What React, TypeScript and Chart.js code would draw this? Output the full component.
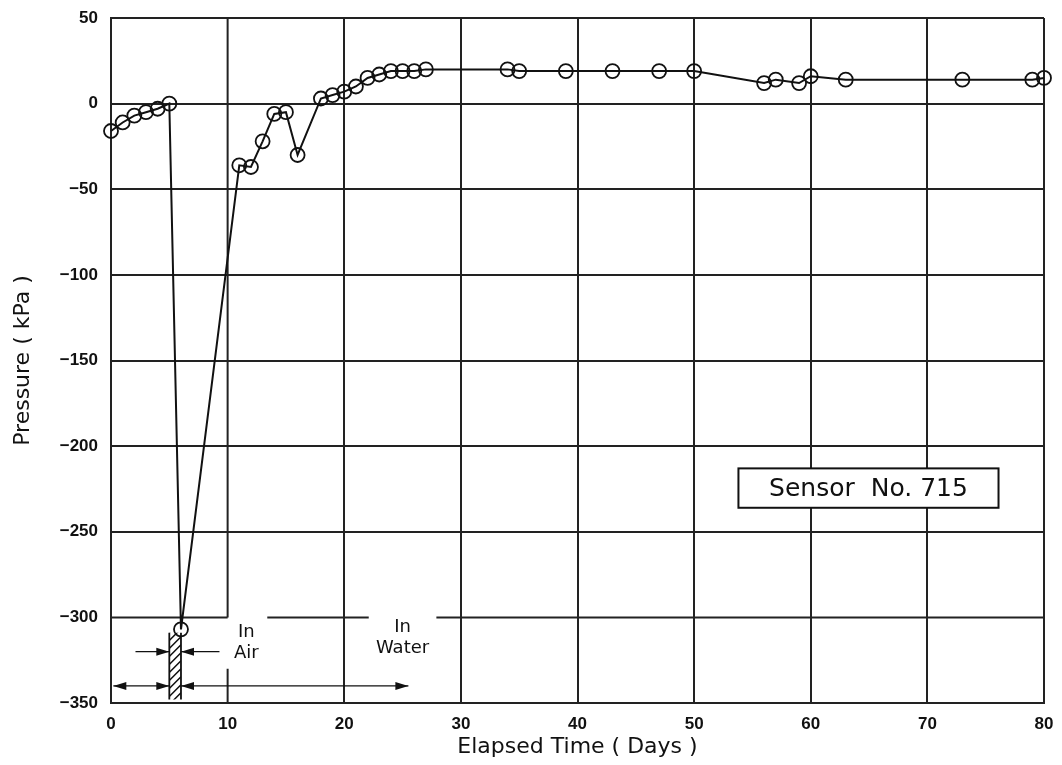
import React, { useEffect, useRef } from "react";
import { Chart, registerables } from "chart.js";
Chart.register(...registerables);

// Data
const days = [0, 1, 2, 3, 4, 5, 6, 11, 12, 13, 14, 15, 16, 18, 19, 20, 21, 22, 23, 24, 25, 26, 27, 34, 35, 39, 43, 47, 50, 56, 57, 59, 60, 63, 73, 79, 80];
const pressure = [-16, -11, -7, -5, -3, 0, -307, -36, -37, -22, -6, -5, -30, 3, 5, 7, 10, 15, 17, 19, 19, 19, 20, 20, 19, 19, 19, 19, 19, 12, 14, 12, 16, 14, 14, 14, 15];

const xTicks = [0, 10, 20, 30, 40, 50, 60, 70, 80];
const yTicks = [50, 0, -50, -100, -150, -200, -250, -300, -350];

// Broken grid lines (data units)
const brokenY = -300;
const brokenYSegments = [[0, 10], [13.4, 22.1], [27.9, 80]];
const brokenX = 10;
const brokenXSegments = [[-300, 50], [-330, -350]];

// Annotations (data units)
const hatchX = [5, 6];
const hatchY = [-309, -348];
const arrowRows = [
  { y: -320, from: 2.1, to: 5, startHead: false, endHead: true },
  { y: -320, from: 9.3, to: 6, startHead: false, endHead: true },
  { y: -340, from: 0.2, to: 5, startHead: true, endHead: true },
  { y: -340, from: 6, to: 25.5, startHead: true, endHead: true },
];
const labels = [
  { text: "In", x: 11.6, y: -309 },
  { text: "Air", x: 11.6, y: -321 },
  { text: "In", x: 25.0, y: -306 },
  { text: "Water", x: 25.0, y: -318 },
];
const legendText = "Sensor  No. 715";
const legendBox = { x0: 53.8, x1: 76.1, y0: -213, y1: -236 };

const FONT = "'DejaVu Sans', 'Liberation Sans', sans-serif";
const TICKFONT = "'Liberation Sans', Arial, sans-serif";
const GRID = "#222";

function arrow(ctx: CanvasRenderingContext2D, x1: number, x2: number, y: number, sh: boolean, eh: boolean) {
  ctx.beginPath();
  ctx.moveTo(x1, y);
  ctx.lineTo(x2, y);
  ctx.stroke();
  const head = (tip: number, dir: number) => {
    ctx.beginPath();
    ctx.moveTo(tip, y);
    ctx.lineTo(tip - dir * 13, y - 4);
    ctx.lineTo(tip - dir * 13, y + 4);
    ctx.closePath();
    ctx.fill();
  };
  const dir = Math.sign(x2 - x1) || 1;
  if (eh) head(x2, dir);
  if (sh) head(x1, -dir);
}

const annotPlugin = {
  id: "annot",
  beforeDatasetsDraw(chart: any) {
    const { ctx, scales } = chart;
    const x = scales.x, y = scales.y;
    const px = (v: number) => x.getPixelForValue(v);
    const py = (v: number) => y.getPixelForValue(v);
    ctx.save();
    ctx.strokeStyle = GRID;
    ctx.fillStyle = "#111";
    ctx.lineWidth = 2;
    for (const [a, b] of brokenYSegments) {
      ctx.beginPath();
      ctx.moveTo(px(a), py(brokenY));
      ctx.lineTo(px(b), py(brokenY));
      ctx.stroke();
    }
    for (const [a, b] of brokenXSegments) {
      ctx.beginPath();
      ctx.moveTo(px(brokenX), py(a));
      ctx.lineTo(px(brokenX), py(b));
      ctx.stroke();
    }
    // hatched bar
    const hx0 = px(hatchX[0]), hx1 = px(hatchX[1]), hy0 = py(hatchY[0]), hy1 = py(hatchY[1]);
    ctx.lineWidth = 1.8;
    ctx.strokeStyle = "#111";
    ctx.beginPath();
    ctx.moveTo(hx0, hy0); ctx.lineTo(hx0, hy1);
    ctx.moveTo(hx1, hy0); ctx.lineTo(hx1, hy1);
    ctx.stroke();
    ctx.save();
    ctx.beginPath();
    ctx.rect(hx0, hy0, hx1 - hx0, hy1 - hy0);
    ctx.clip();
    ctx.beginPath();
    const w = hx1 - hx0;
    for (let t = hy0 - 20; t < hy1 + 20; t += 8) {
      ctx.moveTo(hx0, t + w);
      ctx.lineTo(hx1, t);
    }
    ctx.lineWidth = 1.5;
    ctx.stroke();
    ctx.restore();
    // arrows
    ctx.lineWidth = 1.2;
    for (const a of arrowRows) arrow(ctx, px(a.from), px(a.to), py(a.y), a.startHead, a.endHead);
    // labels
    ctx.fillStyle = "#111";
    ctx.font = `18px ${FONT}`;
    ctx.textAlign = "center";
    ctx.textBaseline = "middle";
    for (const l of labels) ctx.fillText(l.text, px(l.x), py(l.y));
    // legend box
    const bx0 = px(legendBox.x0), bx1 = px(legendBox.x1), by0 = py(legendBox.y0), by1 = py(legendBox.y1);
    ctx.fillStyle = "#fff";
    ctx.fillRect(bx0, by0, bx1 - bx0, by1 - by0);
    ctx.lineWidth = 2;
    ctx.strokeStyle = "#111";
    ctx.strokeRect(bx0, by0, bx1 - bx0, by1 - by0);
    ctx.fillStyle = "#111";
    ctx.font = `25px ${FONT}`;
    ctx.fillText(legendText, (bx0 + bx1) / 2, (by0 + by1) / 2 + 1);
    ctx.restore();
  },
};

export default function App() {
  const ref = useRef<HTMLCanvasElement | null>(null);
  useEffect(() => {
    if (!ref.current) return;
    const chart = new Chart(ref.current, {
      type: "line",
      data: {
        datasets: [
          {
            data: days.map((d, i) => ({ x: d, y: pressure[i] })),
            borderColor: "#111",
            borderWidth: 2,
            pointRadius: 7,
            pointBorderWidth: 1.8,
            pointBorderColor: "#111",
            pointBackgroundColor: "rgba(0,0,0,0)",
            pointStyle: "circle",
            tension: 0,
            clip: false as any,
          },
        ],
      },
      options: {
        responsive: false,
        animation: false,
        devicePixelRatio: 1,
        layout: { padding: { top: 18, right: 18, left: 0, bottom: 0 } },
        plugins: { legend: { display: false }, tooltip: { enabled: false } },
        scales: {
          x: {
            type: "linear",
            min: 0,
            max: 80,
            afterFit: (s: any) => { s.height = 62; s.paddingLeft = 0; s.paddingRight = 0; },
            afterBuildTicks: (s: any) => { s.ticks = xTicks.map((v) => ({ value: v })); },
            ticks: { color: "#111", font: { family: TICKFONT, size: 17, weight: "bold" }, padding: 11, maxRotation: 0 },
            grid: {
              color: (c: any) => (c.tick && c.tick.value === brokenX ? "rgba(0,0,0,0)" : GRID),
              lineWidth: 2,
              drawTicks: false,
            },
            border: { color: GRID, width: 2 },
            title: { display: true, text: "Elapsed Time ( Days )", color: "#111", font: { family: FONT, size: 22 }, padding: { top: 0, bottom: 5 } },
          },
          y: {
            type: "linear",
            min: -350,
            max: 50,
            afterFit: (s: any) => { s.width = 111; s.paddingTop = 0; s.paddingBottom = 0; },
            afterBuildTicks: (s: any) => { s.ticks = yTicks.map((v) => ({ value: v })); },
            ticks: {
              color: "#111",
              font: { family: TICKFONT, size: 17, weight: "bold" },
              padding: 13,
              callback: (v: any) => (Number(v) < 0 ? "\u2212" + Math.abs(Number(v)) : String(v)),
            },
            grid: {
              color: (c: any) => (c.tick && c.tick.value === brokenY ? "rgba(0,0,0,0)" : GRID),
              lineWidth: 2,
              drawTicks: false,
            },
            border: { color: GRID, width: 2 },
            title: { display: true, text: "Pressure ( kPa )", color: "#111", font: { family: FONT, size: 22 }, padding: { top: 10, bottom: 0 } },
          },
        },
      },
      plugins: [annotPlugin],
    });
    return () => chart.destroy();
  }, []);
  return (
    <div style={{ position: "absolute", left: 0, top: 0, width: 1062, height: 765, background: "#fff" }}>
      <canvas ref={ref} width={1062} height={765} />
    </div>
  );
}
